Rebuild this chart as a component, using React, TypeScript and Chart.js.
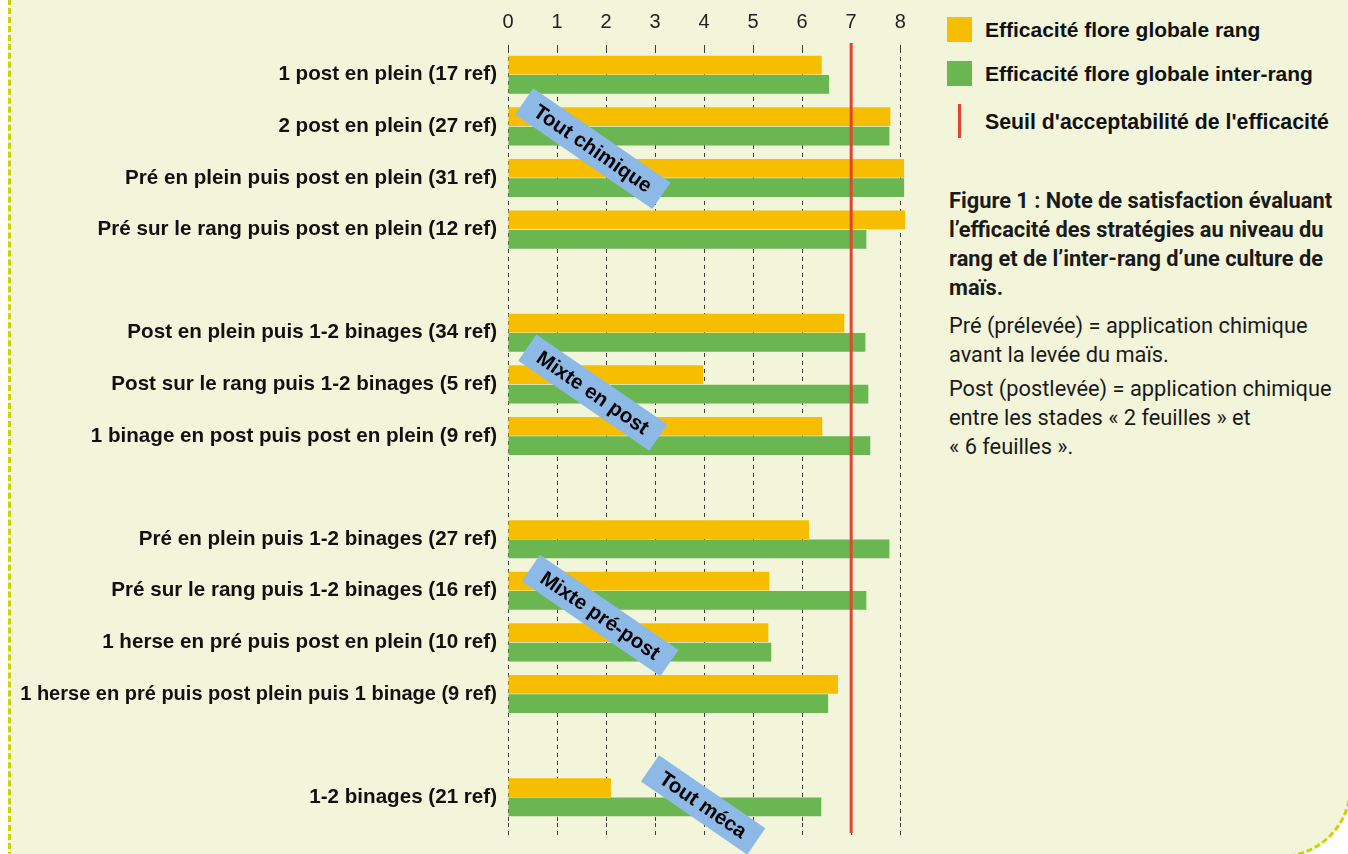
import React, { useEffect, useRef } from "react";
import { Chart, registerables } from "chart.js";

Chart.register(...registerables);

const categories: string[] = [
  "1 post en plein (17 ref)",
  "2 post en plein (27 ref)",
  "Pré en plein puis post en plein (31 ref)",
  "Pré sur le rang puis post en plein (12 ref)",
  "",
  "Post en plein puis 1-2 binages (34 ref)",
  "Post sur le rang puis 1-2 binages (5 ref)",
  "1 binage en post puis post en plein (9 ref)",
  "",
  "Pré en plein puis 1-2 binages (27 ref)",
  "Pré sur le rang puis 1-2 binages (16 ref)",
  "1 herse en pré puis post en plein (10 ref)",
  "1 herse en pré puis post plein puis 1 binage (9 ref)",
  "",
  "1-2 binages (21 ref)",
];

const rangValues: (number | null)[] = [
  6.4, 7.8, 8.08, 8.1, null, 6.86, 3.98, 6.41, null, 6.14, 5.33, 5.31, 6.73, null, 2.1,
];

const interRangValues: (number | null)[] = [
  6.55, 7.78, 8.08, 7.31, null, 7.29, 7.35, 7.39, null, 7.78, 7.31, 5.37, 6.53, null, 6.39,
];

const xTickValues: number[] = [0, 1, 2, 3, 4, 5, 6, 7, 8];
const threshold = 7;

const groupLabels: string[] = ["Tout chimique", "Mixte en post", "Mixte pré-post", "Tout méca"];
const groupX: number[] = [1.73, 1.73, 1.88, 3.98];
const groupY: number[] = [1.43, 6.16, 10.48, 14.15];

const legendLabels: string[] = [
  "Efficacité flore globale rang",
  "Efficacité flore globale inter-rang",
  "Seuil d'acceptabilité de l'efficacité",
];

const YELLOW = "#F7BE00";
const GREEN = "#6AB651";
const RED = "#E2452F";
const BLUE = "#8DB9E6";
const BG = "#F2F5DA";
const BORDER = "#C9D400";

const overlayPlugin = {
  id: "overlay",
  afterDatasetsDraw(chart: any) {
    const { ctx, chartArea, scales } = chart;
    const x = scales.x;
    const y = scales.y;
    ctx.save();
    // extend grid lines slightly beyond chart area
    ctx.strokeStyle = "rgba(30,30,30,0.85)";
    ctx.lineWidth = 1;
    ctx.setLineDash([4, 4]);
    xTickValues.forEach((v) => {
      const px = Math.round(x.getPixelForValue(v)) + 0.5;
      ctx.beginPath();
      ctx.moveTo(px, chartArea.bottom);
      ctx.lineTo(px, chartArea.bottom + 12);
      ctx.stroke();
      ctx.beginPath();
      ctx.moveTo(px, chartArea.top - 4);
      ctx.lineTo(px, chartArea.top);
      ctx.stroke();
    });
    ctx.setLineDash([]);
    // threshold line
    const tx = x.getPixelForValue(threshold);
    ctx.strokeStyle = RED;
    ctx.lineWidth = 3;
    ctx.beginPath();
    ctx.moveTo(tx, chartArea.top - 6);
    ctx.lineTo(tx, chartArea.bottom + 10);
    ctx.stroke();
    // group annotations
    ctx.font = "bold 20.5px 'Liberation Sans', Arial, sans-serif";
    ctx.textAlign = "center";
    ctx.textBaseline = "middle";
    groupLabels.forEach((lab, i) => {
      const cx = x.getPixelForValue(groupX[i]);
      const cy = y.getPixelForValue(groupY[i]);
      const w = ctx.measureText(lab).width + 28;
      const h = 32;
      ctx.save();
      ctx.translate(cx, cy);
      ctx.rotate((34.5 * Math.PI) / 180);
      ctx.fillStyle = BLUE;
      ctx.fillRect(-w / 2, -h / 2, w, h);
      ctx.fillStyle = "#000";
      ctx.fillText(lab, 0, 1);
      ctx.restore();
    });
    ctx.restore();
  },
};

export default function App() {
  const canvasRef = useRef<HTMLCanvasElement | null>(null);

  useEffect(() => {
    if (!canvasRef.current) return;
    const chart = new Chart(canvasRef.current, {
      type: "bar",
      data: {
        labels: categories,
        datasets: [
          {
            label: legendLabels[0],
            data: rangValues,
            backgroundColor: YELLOW,
            borderWidth: 0,
            barPercentage: 0.97,
            categoryPercentage: 0.75,
          },
          {
            label: legendLabels[1],
            data: interRangValues,
            backgroundColor: GREEN,
            borderWidth: 0,
            barPercentage: 0.97,
            categoryPercentage: 0.75,
          },
        ],
      },
      options: {
        indexAxis: "y",
        animation: false,
        responsive: false,
        maintainAspectRatio: false,
        layout: { padding: { left: 0, right: 20, top: 0, bottom: 31 } },
        plugins: {
          legend: { display: false },
          tooltip: { enabled: false },
        },
        scales: {
          x: {
            position: "top",
            min: 0,
            max: 8.2,
            ticks: {
              stepSize: 1,
              color: "#222",
              padding: 15,
              font: { family: "'Liberation Sans', Arial, sans-serif", size: 20 },
            },
            afterBuildTicks: (scale: any) => {
              scale.ticks = xTickValues.map((v) => ({ value: v }));
            },
            afterFit: (scale: any) => {
              scale.height = 49;
            },
            grid: {
              color: "rgba(30,30,30,0.85)",
              lineWidth: 1,
              drawTicks: false,
            },
            border: { display: false, dash: [4, 4] },
          },
          y: {
            ticks: {
              color: "#111",
              padding: 11,
              font: (c: any) => ({
                family: "'Liberation Sans', Arial, sans-serif",
                size: c.index === 12 ? 20 : 20.6,
                weight: "bold",
              }),
            },
            afterFit: (scale: any) => {
              scale.width = 508;
            },
            grid: { display: false, drawTicks: false },
            border: { display: false },
          },
        },
      } as any,
      plugins: [overlayPlugin],
    });
    return () => chart.destroy();
  }, []);

  const legendText: React.CSSProperties = {
    position: "absolute",
    left: 985,
    font: "bold 21px 'Liberation Sans', Arial, sans-serif",
    color: "#111",
    lineHeight: "24px",
    whiteSpace: "nowrap",
  };
  const caption: React.CSSProperties = {
    position: "absolute",
    left: 949,
    fontFamily: "Roboto, 'Noto Sans', sans-serif",
    fontSize: 21.8,
    lineHeight: "29px",
    color: "#1a1a1a",
    whiteSpace: "nowrap",
    margin: 0,
  };

  return (
    <div style={{ position: "fixed", left: 0, top: 0, width: 1348, height: 854, background: "#fff", overflow: "hidden" }}>
      <div
        style={{
          position: "absolute",
          left: 8,
          top: -10,
          width: 1343.5,
          height: 867.5,
          boxSizing: "border-box",
          background: BG,
          border: `3px dashed ${BORDER}`,
          borderRadius: "0 0 71.5px 0",
        }}
      />
      <canvas
        ref={canvasRef}
        width={930}
        height={854}
        style={{ position: "absolute", left: 0, top: 0, width: 930, height: 854 }}
      />
      <div style={{ position: "absolute", left: 947, top: 17, width: 25, height: 25, background: YELLOW }} />
      <div style={{ ...legendText, top: 18 }}>{legendLabels[0]}</div>
      <div style={{ position: "absolute", left: 947, top: 61, width: 25, height: 25, background: GREEN }} />
      <div style={{ ...legendText, top: 62 }}>{legendLabels[1]}</div>
      <div style={{ position: "absolute", left: 958, top: 104, width: 3, height: 34, background: RED }} />
      <div style={{ ...legendText, top: 110, fontSize: 21.3 }}>{legendLabels[2]}</div>
      <p style={{ ...caption, top: 185.5, fontWeight: 700 }}>
        Figure 1 : Note de satisfaction évaluant
        <br />
        l’efficacité des stratégies au niveau du
        <br />
        rang et de l’inter-rang d’une culture de
        <br />
        maïs.
      </p>
      <p style={{ ...caption, top: 310.5 }}>
        Pré (prélevée) = application chimique
        <br />
        avant la levée du maïs.
      </p>
      <p style={{ ...caption, top: 373.5 }}>
        Post (postlevée) = application chimique
        <br />
        entre les stades « 2 feuilles » et
        <br />« 6 feuilles ».
      </p>
    </div>
  );
}
